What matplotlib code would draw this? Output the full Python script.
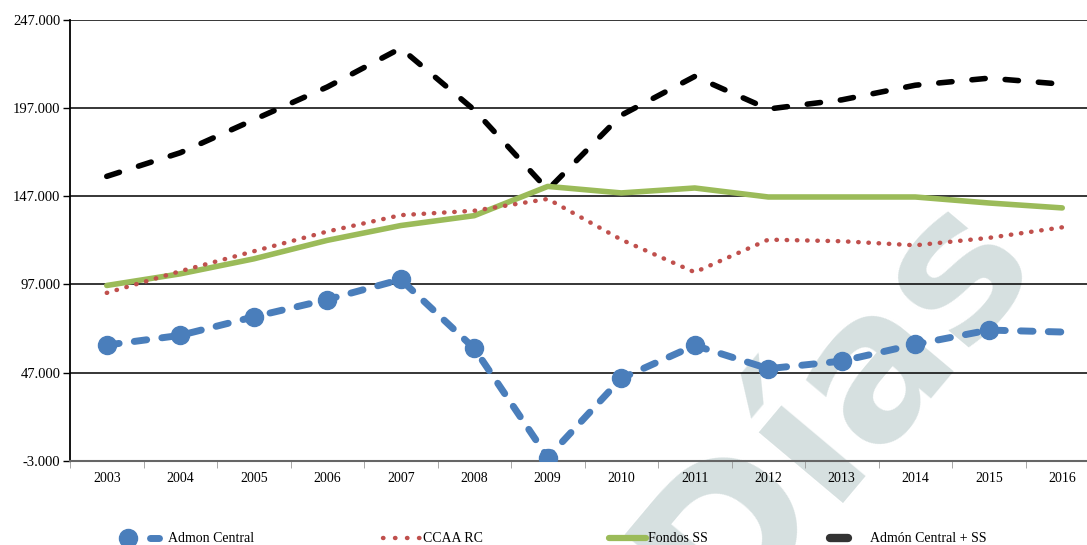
import numpy as np
import matplotlib
matplotlib.use("Agg")
import matplotlib.pyplot as plt
from matplotlib.lines import Line2D

years = ["2003", "2004", "2005", "2006", "2007", "2008", "2009",
         "2010", "2011", "2012", "2013", "2014", "2015", "2016"]

admon_central = [62.6, 68.1, 78.6, 88.4, 99.8, 60.7, -1.2,
                 43.7, 62.4, 49.2, 53.5, 63.0, 71.1, 70.0]
ccaa_rc = [92.2, 104.5, 115.8, 127.0, 136.3, 138.8, 145.5,
           122.4, 103.9, 122.4, 121.5, 119.2, 123.4, 129.4]
fondos_ss = [96.4, 103.0, 111.5, 122.0, 130.4, 136.0, 152.6,
             148.9, 151.7, 146.6, 146.6, 146.6, 143.2, 140.4]
admon_ss = [158.3, 171.7, 190.4, 209.0, 231.0, 196.0, 150.7,
            193.0, 215.0, 196.5, 201.7, 210.0, 214.0, 210.6]

yticks = [-3, 47, 97, 147, 197, 247]
labels = ["Admon Central", "CCAA RC", "Fondos SS", "Admón Central + SS"]

BLUE, RED, GREEN = "#4a7ebb", "#c0504d", "#9bbb59"

plt.rcParams["font.family"] = ["Liberation Serif", "DejaVu Serif"]

W, H = 1087, 545
fig = plt.figure(figsize=(W / 100, H / 100), dpi=100)
ax = fig.add_axes([70 / W, (H - 460.7) / H, 1029 / W, (460.7 - 20) / H])

x = np.arange(len(years))

# watermark of the source, behind everything
fig.text(835 / W, 1 - 405 / H, "Días", fontsize=145, rotation=50,
         color="#d6e0e0", ha="center", va="center",
         family="DejaVu Sans", fontweight="bold", zorder=-1)

ax.plot(x, admon_ss, color="black", lw=4, ls=(0, (2.4, 3.6)),
        dash_capstyle="round", zorder=3)
ax.plot(x, fondos_ss, color=GREEN, lw=4, solid_capstyle="round", zorder=3)
ax.plot(x, ccaa_rc, color=RED, lw=3.2, ls=(0, (0.1, 2.2)),
        dash_capstyle="round", zorder=3)
ax.plot(x, admon_central, color=BLUE, lw=5, ls=(0, (1.8, 2.2)),
        dash_capstyle="round", marker="o", markersize=13,
        markevery=list(range(len(years) - 1)), zorder=4)

ax.set_xlim(-0.5, len(years) - 0.5)
ax.set_ylim(-3, 247)
ax.set_yticks(yticks)
ax.set_yticklabels([f"{v:.3f}" for v in yticks])
ax.set_xticks(x)
ax.set_xticklabels(years)
ax.set_xticks(np.arange(-0.5, len(years), 1), minor=True)
ax.tick_params(axis="x", which="major", length=0, pad=8, labelsize=10)
ax.tick_params(axis="x", which="minor", length=5, color="#999999")
ax.tick_params(axis="y", length=5, width=1, labelsize=10.5, pad=2)

ax.grid(axis="y", color="black", lw=1.1, zorder=1)
for s in ["top", "right"]:
    ax.spines[s].set_visible(False)
ax.spines["left"].set_linewidth(1.3)
ax.spines["bottom"].set_color("#666666")
ax.spines["bottom"].set_linewidth(1.5)
ax.set_facecolor("none")

# legend drawn by hand, entries unevenly spaced like the original
ly = 1 - 538 / H
fx = lambda px: px / W
fig.add_artist(Line2D([fx(128)], [ly], color=BLUE, marker="o", markersize=13,
                      lw=0))
fig.add_artist(Line2D([fx(150), fx(159)], [ly, ly], color=BLUE, lw=5,
                      solid_capstyle="round"))
fig.add_artist(Line2D([fx(383), fx(420)], [ly, ly], color=RED, lw=3.2,
                      ls=(0, (0.1, 2.6)), dash_capstyle="round"))
fig.add_artist(Line2D([fx(609), fx(646)], [ly, ly], color=GREEN, lw=4.5,
                      solid_capstyle="round"))
fig.add_artist(Line2D([fx(830), fx(848)], [ly, ly], color="#333333", lw=6,
                      solid_capstyle="round"))
for px, lab in zip([168, 423, 648, 870], labels):
    fig.text(fx(px), ly, lab, fontsize=10, ha="left", va="center")

fig.savefig("out.png", dpi=100)
